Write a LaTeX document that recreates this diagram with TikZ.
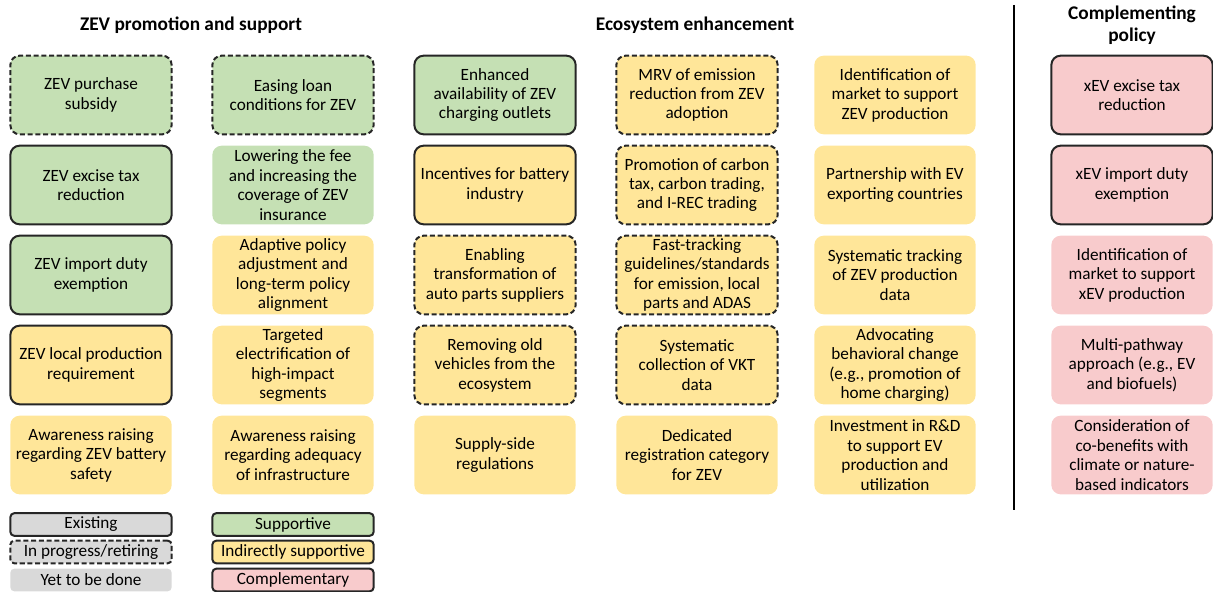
\documentclass[tikz,border=0pt]{standalone}
\usepackage{fontspec}
\setmainfont{Carlito}
\definecolor{supgreen}{RGB}{197,224,180}
\definecolor{indyellow}{RGB}{255,230,153}
\definecolor{comppink}{RGB}{248,203,204}
\definecolor{todogrey}{RGB}{217,217,217}

\tikzset{
  policy/.style={rectangle, rounded corners=7pt, minimum width=121pt, minimum height=59pt,
    align=center, font=\fontsize{12.9}{14.6}\selectfont, inner sep=1pt},
  existing/.style={draw=black!85, line width=1.5pt},
  inprogress/.style={draw=black!85, line width=1.5pt, dash pattern=on 3.8pt off 2pt},
  todo/.style={draw=none},
  legend/.style={rectangle, rounded corners=3pt, minimum width=121pt, minimum height=17pt,
    inner sep=0pt, font=\fontsize{12.9}{14}\selectfont},
  header/.style={font=\bfseries\fontsize{14.5}{16.5}\selectfont, align=center}
}

\begin{document}
\begin{tikzpicture}[x=0.75pt,y=-0.75pt]
  \useasboundingbox (0,0) rectangle (1213,592);

  % headers
  \node[header] (hpromo) at (191,25) {ZEV promotion and support};
  \node[header] (heco) at (695,25) {Ecosystem enhancement};
  \node[header] (hcomp) at (1132,25) {Complementing\\policy};
  \draw[line width=1.3pt] (1014,5) -- (1014,510);

  % ZEV promotion and support
  \node[policy, inprogress, fill=supgreen] (subsidy) at (91,95) {ZEV purchase\\subsidy};
  \node[policy, existing, fill=supgreen] (excise) at (91,185) {ZEV excise tax\\reduction};
  \node[policy, existing, fill=supgreen] (import) at (91,275) {ZEV import duty\\exemption};
  \node[policy, existing, fill=indyellow] (localprod) at (91,365) {ZEV local production\\requirement};
  \node[policy, todo, fill=indyellow] (battsafety) at (91,455) {Awareness raising\\regarding ZEV battery\\safety};

  \node[policy, inprogress, fill=supgreen] (loan) at (293,95) {Easing loan\\conditions for ZEV};
  \node[policy, todo, fill=supgreen] (insurance) at (293,185) {Lowering the fee\\and increasing the\\coverage of ZEV\\insurance};
  \node[policy, todo, fill=indyellow] (adaptive) at (293,275) {Adaptive policy\\adjustment and\\long-term policy\\alignment};
  \node[policy, todo, fill=indyellow] (targeted) at (293,365) {Targeted\\electrification of\\high-impact\\segments};
  \node[policy, todo, fill=indyellow] (infra) at (293,455) {Awareness raising\\regarding adequacy\\of infrastructure};

  % Ecosystem enhancement
  \node[policy, existing, fill=supgreen] (charging) at (495,95) {Enhanced\\availability of ZEV\\charging outlets};
  \node[policy, existing, fill=indyellow] (battery) at (495,185) {Incentives for battery\\industry};
  \node[policy, inprogress, fill=indyellow] (autoparts) at (495,275) {Enabling\\transformation of\\auto parts suppliers};
  \node[policy, inprogress, fill=indyellow] (oldveh) at (495,365) {Removing old\\vehicles from the\\ecosystem};
  \node[policy, todo, fill=indyellow] (supply) at (495,455) {Supply-side\\regulations};

  \node[policy, inprogress, fill=indyellow] (mrv) at (697,95) {MRV of emission\\reduction from ZEV\\adoption};
  \node[policy, inprogress, fill=indyellow] (carbon) at (697,185) {Promotion of carbon\\tax, carbon trading,\\and I-REC trading};
  \node[policy, inprogress, fill=indyellow] (fasttrack) at (697,275) {Fast-tracking\\guidelines/standards\\for emission, local\\parts and ADAS};
  \node[policy, inprogress, fill=indyellow] (vkt) at (697,365) {Systematic\\collection of VKT\\data};
  \node[policy, todo, fill=indyellow] (registration) at (697,455) {Dedicated\\registration category\\for ZEV};

  \node[policy, todo, fill=indyellow] (market) at (895,95) {Identification of\\market to support\\ZEV production};
  \node[policy, todo, fill=indyellow] (partner) at (895,185) {Partnership with EV\\exporting countries};
  \node[policy, todo, fill=indyellow] (tracking) at (895,275) {Systematic tracking\\of ZEV production\\data};
  \node[policy, todo, fill=indyellow] (behavior) at (895,365) {Advocating\\behavioral change\\(e.g., promotion of\\home charging)};
  \node[policy, todo, fill=indyellow] (rnd) at (895,455) {Investment in R\&D\\to support EV\\production and\\utilization};

  % Complementing policy
  \node[policy, existing, fill=comppink] (xexcise) at (1132,95) {xEV excise tax\\reduction};
  \node[policy, existing, fill=comppink] (ximport) at (1132,185) {xEV import duty\\exemption};
  \node[policy, todo, fill=comppink] (xmarket) at (1132,275) {Identification of\\market to support\\xEV production};
  \node[policy, todo, fill=comppink] (multipath) at (1132,365) {Multi-pathway\\approach (e.g., EV\\and biofuels)};
  \node[policy, todo, fill=comppink] (cobenefit) at (1132,455) {Consideration of\\co-benefits with\\climate or nature-\\based indicators};

  % legend
  \node[legend, existing, fill=todogrey] (lexist) at (91,524.5) {Existing};
  \node[legend, inprogress, fill=todogrey] (lprog) at (91,552) {In progress/retiring};
  \node[legend, todo, fill=todogrey] (ltodo) at (91,580) {Yet to be done};
  \node[legend, existing, fill=supgreen] (lsup) at (293,524.5) {Supportive};
  \node[legend, existing, fill=indyellow] (lind) at (293,552) {Indirectly supportive};
  \node[legend, existing, fill=comppink] (lcomp) at (293,580) {Complementary};
\end{tikzpicture}
\end{document}
